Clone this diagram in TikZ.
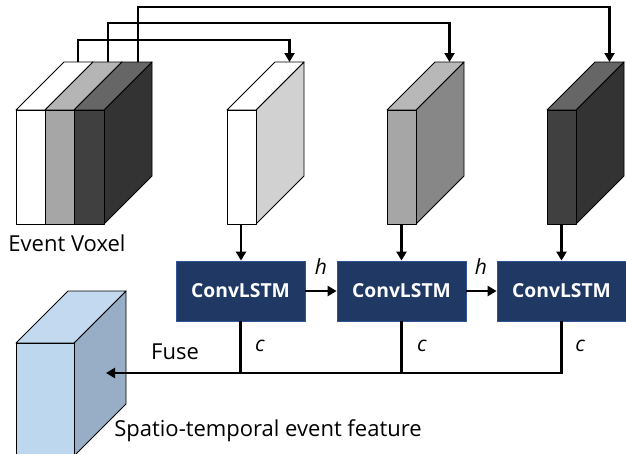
\documentclass[tikz,border=0pt]{standalone}
\usepackage{fontspec}
\setmainfont{Open Sans}
\usetikzlibrary{arrows.meta}
\definecolor{navy}{HTML}{203864}
\definecolor{navyb}{HTML}{2F5597}
\definecolor{bfront}{HTML}{BDD7EE}
\definecolor{btop}{HTML}{C3D9EF}
\definecolor{bright}{HTML}{97AEC6}
\tikzset{
  conn/.style={line width=2.6pt,-{Triangle[length=9pt,width=10pt]}},
  plain/.style={line width=2.6pt},
  face/.style={draw=black,line width=0.9pt,line join=round},
  lstm/.style={draw=navyb,fill=navy,line width=0.8pt,minimum width=129pt,minimum height=60pt,inner sep=0pt,text=white,font=\bfseries\fontsize{19.3}{22}\selectfont},
  lbl/.style={font=\fontsize{22}{26}\selectfont,inner sep=0pt},
  ilbl/.style={font=\itshape\fontsize{21}{24}\selectfont,inner sep=0pt}
}
% slab: x1,x2,ytop,ybottom,depth,front,top,right
\newcommand{\myslab}[8]{%
  \filldraw[face,fill=#8] (#2,#3) -- (#2+#5,#3-#5) -- (#2+#5,#4-#5) -- (#2,#4) -- cycle;
  \filldraw[face,fill=#7] (#1,#3) -- (#2,#3) -- (#2+#5,#3-#5) -- (#1+#5,#3-#5) -- cycle;
  \filldraw[face,fill=#6] (#1,#3) rectangle (#2,#4);
}
\begin{document}
\begin{tikzpicture}[x=1pt,y=-1pt]
\useasboundingbox (0,0) rectangle (626,453);
% event voxel
\myslab{16}{45}{110}{224}{48}{white}{white}{white}
\myslab{45}{74}{110}{224}{48}{black!35}{black!29}{black!35}
\myslab{74}{104}{110}{224}{48}{black!75}{black!60}{black!80}
% single slabs
\myslab{227}{256}{110}{224}{48}{white}{white}{black!18}
\myslab{387}{416}{110}{224}{48}{black!35}{black!28}{black!47}
\myslab{547}{576}{110}{224}{48}{black!75}{black!60}{black!80}
% feature block
\myslab{16}{74}{343}{456}{52}{bfront}{btop}{bright}

% coordinates
\coordinate (v1) at (78,62);
\coordinate (v2) at (108,62);
\coordinate (v3) at (138,62);
\coordinate (s1t) at (289.5,62);
\coordinate (s2t) at (449.5,62);
\coordinate (s3t) at (609.5,62);
\coordinate (s1b) at (241,224);
\coordinate (s2b) at (401.5,224);
\coordinate (s3b) at (561.5,224);
\coordinate (feat) at (106,373);

% ConvLSTM
\node[lstm] (L1) at (240.5,291) {ConvLSTM};
\node[lstm] (L2) at (401.5,291) {ConvLSTM};
\node[lstm] (L3) at (561.5,291) {ConvLSTM};

% top connectors
\draw[conn] (v1) -- (78,40) -| (s1t);
\draw[conn] (v2) -- (108,23) -| (s2t);
\draw[conn] (v3) -- (138,7) -| (s3t);

\draw[conn] (s1b) -- (s1b |- L1.north);
\draw[conn] (s2b) -- (s2b |- L2.north);
\draw[conn] (s3b) -- (s3b |- L3.north);

\draw[conn] (L1.east) -- (L2.west);
\draw[conn] (L2.east) -- (L3.west);

% c lines
\draw[plain] (L2.south) -- (L2.south |- feat);
\draw[plain] (L1.south) -- (L1.south |- feat);
\draw[conn] (L3.south) -- (L3.south |- feat) -- (feat);

% labels
\node[ilbl] (h1) at (321,267) {h};
\node[ilbl] (h2) at (481,267) {h};
\node[ilbl] (c1) at (260,346) {c};
\node[ilbl] (c2) at (422,346) {c};
\node[ilbl] (c3) at (580,346) {c};
\node[lbl] (fuse) at (175,352) {Fuse};
\node[lbl] (ev) at (67,243) {Event Voxel};
\node[lbl] (st) at (268,431) {Spatio-temporal event feature};
\end{tikzpicture}
\end{document}
